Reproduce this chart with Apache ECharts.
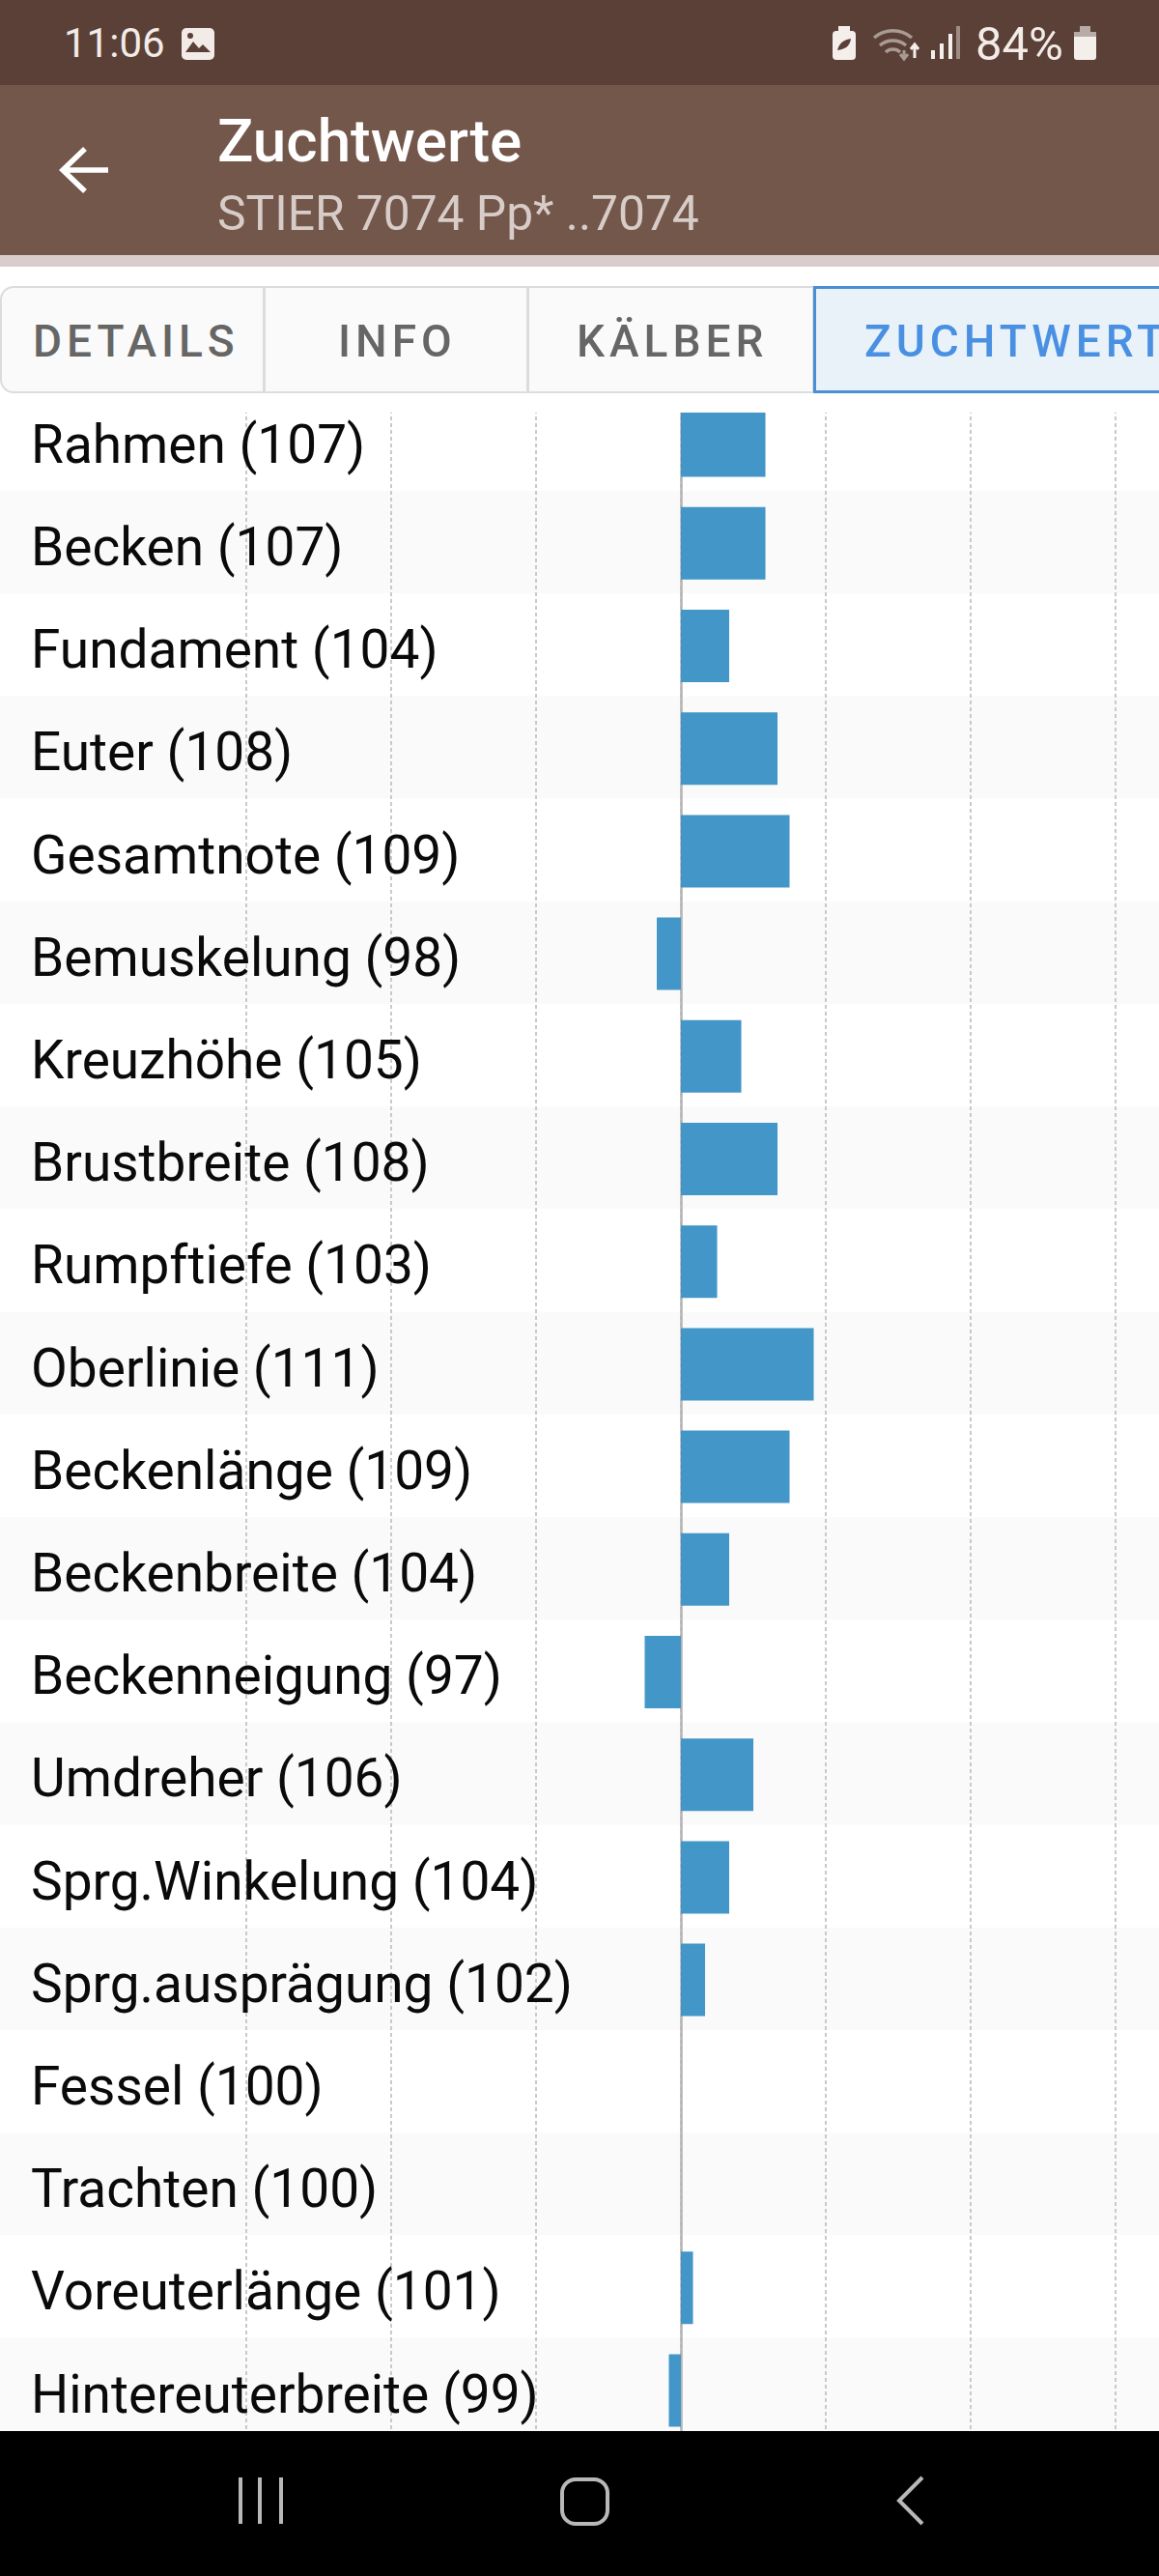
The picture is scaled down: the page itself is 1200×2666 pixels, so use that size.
<!DOCTYPE html>
<html><head><meta charset="utf-8">
<style>
html,body{margin:0;padding:0;background:#fff;overflow:hidden;width:1200px;height:2666px;font-family:Roboto,sans-serif}
#chart{position:absolute;left:0;top:0;width:1200px;height:2666px}
.b{position:absolute;left:0;width:1200px}
.t{position:absolute;white-space:nowrap;line-height:1}
.tab{position:absolute;top:296px;height:111px;box-sizing:border-box;border:2px solid #dcdcdc;background:#fafafa;overflow:hidden}
svg{position:absolute;left:0;top:0}
</style>
<script src="https://cdn.jsdelivr.net/npm/echarts@6/dist/echarts.min.js"></script>
</head><body>
<div id="chart"></div>
<div id="chrome"></div>
<script>
const traits=['Rahmen','Becken','Fundament','Euter','Gesamtnote','Bemuskelung','Kreuzhöhe','Brustbreite','Rumpftiefe','Oberlinie','Beckenlänge','Beckenbreite','Beckenneigung','Umdreher','Sprg.Winkelung','Sprg.ausprägung','Fessel','Trachten','Voreuterlänge','Hintereuterbreite'];
const scores=[107,107,104,108,109,98,105,108,103,111,109,104,97,106,104,102,100,100,101,99];
const baseScore=100;
const deviations=scores.map(v=>v-baseScore);
const labels=traits.map((t,i)=>t+' ('+scores[i]+')');
const tabs=['DETAILS','INFO','KÄLBER','ZUCHTWERT'];
const title='Zuchtwerte', subtitle='STIER 7074 Pp* ..7074', clock='11:06', battery='84%';

const gridTop=403, gridHeight=2124, labelDrop=10;
const chart=echarts.init(document.getElementById('chart'),null,{renderer:'canvas'});
chart.setOption({
  animation:false,
  backgroundColor:'#ffffff',
  grid:[
    {left:0,width:1200,top:gridTop-1,height:gridHeight,containLabel:false},
    {left:255,width:900,top:gridTop,height:gridHeight,containLabel:false},
    {left:0,width:1200,top:gridTop+labelDrop-1,height:gridHeight,containLabel:false}
  ],
  xAxis:[
    {gridIndex:0,type:'value',min:0,max:1,show:false},
    {gridIndex:1,type:'value',min:-36,max:36,interval:12,
     axisLine:{show:false},axisTick:{show:false},axisLabel:{show:false},
     splitLine:{show:true,lineStyle:{color:'#c9c9c9',width:2,type:[4,3]}}},
    {gridIndex:2,type:'value',min:0,max:1,show:false}
  ],
  yAxis:[
    {gridIndex:0,type:'category',inverse:true,data:labels,
     axisLine:{show:false},axisTick:{show:false},axisLabel:{show:false},splitLine:{show:false},
     splitArea:{show:true,areaStyle:{color:['#ffffff','#fafafa']}}},
    {gridIndex:1,type:'category',inverse:true,data:labels,
     axisLine:{show:true,onZero:true,lineStyle:{color:'#b4b4b4',width:2.5}},
     axisTick:{show:false},axisLabel:{show:false},splitLine:{show:false}},
    {gridIndex:2,type:'category',inverse:true,data:labels,
     axisLine:{show:false},axisTick:{show:false},splitLine:{show:false},
     axisLabel:{show:true,inside:true,margin:32,align:'left',interval:0,
       fontFamily:'Roboto',fontSize:55,color:'#0a0a0a'}}
  ],
  series:[{type:'bar',xAxisIndex:1,yAxisIndex:1,data:deviations,barWidth:75,
    itemStyle:{color:'#4296c8'},silent:true}]
});

const c=document.getElementById('chrome');
let h='';
h+='<div class="b" style="top:0;height:88px;background:#5b4037"></div>';
h+='<div class="b" style="top:88px;height:176px;background:#74574b"></div>';
h+='<div class="b" style="top:264px;height:12px;background:#d8cdcb"></div>';
h+='<div class="b" style="top:276px;height:151px;background:#ffffff"></div>';
h+='<div class="b" style="top:2516px;height:150px;background:#000000"></div>';
h+=`<div class="t" style="left:66px;top:24px;font-size:42px;color:#f2ebe7">${clock}</div>`;
h+=`<div class="t" style="left:1010px;top:21px;font-size:49px;color:#f2ebe7">${battery}</div>`;
h+=`<div class="t" style="left:225px;top:115px;font-size:62px;font-weight:500;color:#ffffff">${title}</div>`;
h+=`<div class="t" style="left:225px;top:197px;font-size:49.7px;color:#d7ccc8">${subtitle}</div>`;
const tabBoxes=[[0,274],[273,274],[546,297],[842,370]];
tabs.forEach((t,i)=>{
  const [x,w]=tabBoxes[i], active=i===3;
  const st=active?'border:3px solid #4a8fd6;background:#e9f1f9;':'';
  const rad=i===0?'border-radius:14px 0 0 14px;':'';
  h+=`<div class="tab" style="left:${x}px;width:${w}px;${st}${rad}"></div>`;
});
const tabText=[[34,'#666666'],[350,'#666666'],[597,'#666666'],[895,'#4a90e2']];
tabs.forEach((t,i)=>{
  h+=`<div class="t" style="left:${tabText[i][0]}px;top:330px;font-size:46px;font-weight:500;letter-spacing:5px;color:${tabText[i][1]}">${t}</div>`;
});
h+=`<svg width="1200" height="2666" style="pointer-events:none">
 <rect x="188" y="29" width="34" height="33" rx="5" fill="#f2ebe7"/>
 <path d="M192 54l8-11 6 7 4-4 8 8z" fill="#5b4037"/><circle cx="197" cy="37" r="3" fill="#5b4037"/>
 <rect x="862" y="32" width="24" height="30" rx="4" fill="#f5efeb"/><rect x="868" y="27" width="12" height="6" fill="#f5efeb"/>
 <path d="M867 52c2-8 7-11 14-12-1 8-6 11-14 12z" fill="#5b4037"/>
 <g fill="none" stroke="#a99a93" stroke-width="3.5"><path d="M905 39a30 30 0 0 1 39 0M911 47a21 21 0 0 1 27 0M917 54a11 11 0 0 1 15 0"/></g>
 <path d="M936 52v8m-4-4l4 5 4-5" stroke="#a99a93" stroke-width="3" fill="none"/>
 <path d="M947 60v-13m-4 4l4-5 4 5" stroke="#f5efeb" stroke-width="3" fill="none"/>
 <g fill="#f5efeb"><rect x="964" y="52" width="4" height="9"/><rect x="973" y="45" width="4" height="16"/><rect x="982" y="35" width="4" height="26"/></g>
 <rect x="990" y="27" width="4" height="34" fill="#9d8b84"/>
 <rect x="1112" y="33" width="23" height="29" rx="3" fill="#f5efeb"/><rect x="1112" y="33" width="23" height="5" fill="#b8aba5"/><rect x="1118" y="27" width="11" height="7" fill="#b8aba5"/>
 <path d="M112 176H66M88 154l-23 22 23 22" fill="none" stroke="#fff" stroke-width="5.5"/>
 <g stroke="#b8b8b8" stroke-width="4"><path d="M249 2564v48M269 2564v48M291 2564v48"/></g>
 <rect x="582" y="2566" width="47" height="46" rx="14" fill="none" stroke="#b8b8b8" stroke-width="4"/>
 <path d="M955 2564l-24 24 24 24" fill="none" stroke="#b8b8b8" stroke-width="4"/>
</svg>`;
c.innerHTML=h;
</script>
</body></html>
